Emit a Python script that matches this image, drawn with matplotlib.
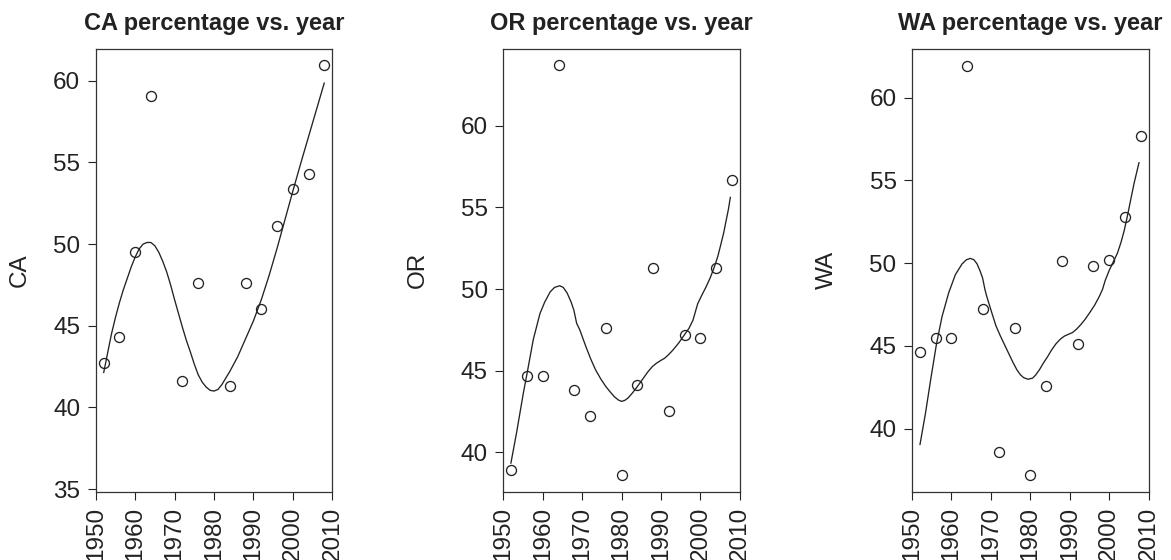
import matplotlib
matplotlib.use("Agg")
import matplotlib.pyplot as plt

# ---- observed vote shares (percent) by election year ----
ca_years = [1952, 1956, 1960, 1964, 1972, 1976, 1984, 1988, 1992, 1996, 2000, 2004, 2008]
ca_pct = [42.7, 44.3, 49.5, 59.1, 41.6, 47.6, 41.3, 47.6, 46.0, 51.1, 53.4, 54.3, 61.0]

or_years = [1952, 1956, 1960, 1964, 1968, 1972, 1976, 1980, 1984, 1988, 1992, 1996, 2000, 2004, 2008]
or_pct = [38.9, 44.7, 44.7, 63.7, 43.8, 42.2, 47.6, 38.6, 44.1, 51.3, 42.5, 47.2, 47.0, 51.3, 56.7]

wa_years = [1952, 1956, 1960, 1964, 1968, 1972, 1976, 1980, 1984, 1988, 1992, 1996, 2000, 2004, 2008]
wa_pct = [44.6, 45.5, 45.5, 61.9, 47.2, 38.6, 46.1, 37.2, 42.6, 50.1, 45.1, 49.8, 50.2, 52.8, 57.7]

# ---- fitted smooth trend for each state ----
ca_fit_x = [1952.0, 1953.0, 1954.0, 1955.0, 1956.0, 1957.0, 1958.0, 1959.0, 1960.0, 1961.0,
            1962.0, 1963.0, 1964.0, 1965.0, 1966.0, 1967.0, 1968.0, 1969.0, 1970.0, 1971.0,
            1972.0, 1973.0, 1974.0, 1975.0, 1976.0, 1977.0, 1978.0, 1979.0, 1980.0, 1981.0,
            1982.0, 1983.0, 1984.0, 1986.0, 1988.0, 1990.0, 1992.0, 1994.0, 1996.0, 1998.0,
            2000.0, 2002.0, 2004.0, 2006.0, 2008.0]
ca_fit_y = [42.1, 43.3, 44.5, 45.5, 46.4, 47.2, 47.9, 48.6, 49.2, 49.7,
            50.0, 50.1, 50.1, 49.9, 49.5, 48.95, 48.3, 47.5, 46.6, 45.75,
            44.9, 44.1, 43.4, 42.65, 42.0, 41.55, 41.25, 41.05, 41.0, 41.1,
            41.4, 41.8, 42.2, 43.1, 44.2, 45.3, 46.6, 48.1, 49.75, 51.5,
            53.25, 54.95, 56.6, 58.25, 59.9]

or_fit_x = [1951.9, 1953.4, 1955.1, 1956.0, 1957.6, 1959.3, 1960.5, 1961.9, 1963.0, 1964.3,
            1965.2, 1966.2, 1967.2, 1967.9, 1968.6, 1969.4, 1970.9, 1972.2, 1973.4, 1974.7,
            1976.0, 1977.1, 1978.1, 1979.2, 1980.0, 1980.8, 1981.6, 1982.8, 1984.0, 1985.4,
            1986.7, 1987.8, 1988.8, 1989.9, 1990.9, 1992.0, 1993.0, 1994.5, 1996.0, 1997.1,
            1998.1, 1998.7, 1999.3, 2000.3, 2001.4, 2002.5, 2003.5, 2004.4, 2005.2, 2005.9,
            2006.5, 2007.1, 2007.6]
or_fit_y = [39.3, 41.25, 43.65, 44.8, 46.9, 48.5, 49.2, 49.83, 50.1, 50.2,
            50.1, 49.75, 49.2, 48.7, 47.9, 47.5, 46.5, 45.7, 45.05, 44.5,
            44.03, 43.7, 43.42, 43.2, 43.12, 43.18, 43.32, 43.65, 44.03, 44.5,
            44.94, 45.25, 45.45, 45.62, 45.76, 46.0, 46.26, 46.7, 47.22, 47.6,
            48.09, 48.6, 49.1, 49.6, 50.12, 50.7, 51.34, 52.0, 52.76, 53.45,
            54.18, 54.9, 55.65]

wa_fit_x = [1952.0, 1953.4, 1954.7, 1956.2, 1957.6, 1959.3, 1961.0, 1962.7, 1963.8, 1964.8,
            1965.7, 1966.5, 1967.3, 1967.9, 1968.5, 1969.0, 1970.3, 1971.3, 1972.4, 1973.5,
            1974.5, 1975.5, 1976.6, 1977.5, 1978.3, 1979.4, 1980.6, 1981.4, 1982.3, 1983.3,
            1984.4, 1985.4, 1986.5, 1987.6, 1988.6, 1989.7, 1990.7, 1991.7, 1992.8, 1993.9,
            1995.0, 1996.3, 1997.5, 1998.3, 1999.0, 2000.0, 2001.0, 2002.1, 2003.0, 2003.8,
            2004.5, 2005.1, 2005.7, 2006.3, 2007.0, 2007.6]
wa_fit_y = [39.0, 40.9, 42.9, 45.1, 46.75, 48.2, 49.3, 49.95, 50.2, 50.28,
            50.2, 49.95, 49.5, 49.1, 48.4, 47.95, 46.95, 46.2, 45.6, 45.05,
            44.55, 44.05, 43.55, 43.25, 43.08, 42.98, 43.05, 43.25, 43.55, 43.95,
            44.35, 44.75, 45.12, 45.4, 45.58, 45.7, 45.8, 46.0, 46.28, 46.6,
            46.98, 47.45, 47.98, 48.4, 48.95, 49.55, 50.05, 50.6, 51.25, 51.95,
            52.7, 53.4, 54.1, 54.8, 55.5, 56.1]

# ---- axis ticks ----
x_ticks = [1950, 1960, 1970, 1980, 1990, 2000, 2010]
x_tick_labels = ["1950", "1960", "1970", "1980", "1990", "2000", "2010"]
ca_y_ticks = [35, 40, 45, 50, 55, 60]
or_y_ticks = [40, 45, 50, 55, 60]
wa_y_ticks = [40, 45, 50, 55, 60]

panels = [
    ("CA", ca_years, ca_pct, ca_fit_x, ca_fit_y, ca_y_ticks, (34.85, 61.95), 95.7, -0.323),
    ("OR", or_years, or_pct, or_fit_x, or_fit_y, or_y_ticks, (37.6, 64.7), 503.3, -0.359),
    ("WA", wa_years, wa_pct, wa_fit_x, wa_fit_y, wa_y_ticks, (36.2, 62.93), 912.0, -0.360),
]

plt.rcParams["font.family"] = ["Liberation Sans", "DejaVu Sans"]
ink = "#222222"
W, H = 1171, 560
top_px, bottom_px, width_px = 49.0, 491.5, 236.6
tick_fs = 17.5
title_fs = 17.0

fig = plt.figure(figsize=(W / 100, H / 100), dpi=100)
fig.patch.set_facecolor("white")

for state, yrs, pct, fx, fy, yticks, ylim, left_px, ylab_x in panels:
    ax = fig.add_axes([left_px / W, (H - bottom_px) / H,
                       width_px / W, (bottom_px - top_px) / H])
    ax.plot(fx, fy, color=ink, lw=0.95, solid_capstyle="butt")
    ax.plot(yrs, pct, linestyle="none", marker="o", markersize=7.2,
            markerfacecolor="none", markeredgecolor=ink, markeredgewidth=0.95,
            clip_on=False)
    ax.set_xlim(1950, 2010)
    ax.set_ylim(*ylim)
    ax.set_xticks(x_ticks)
    ax.set_xticklabels(x_tick_labels, rotation=90)
    ax.set_yticks(yticks)
    ax.tick_params(direction="out", length=6.1, width=0.8, pad=5,
                   labelsize=tick_fs, colors=ink)
    for spine in ax.spines.values():
        spine.set_color("#333333")
        spine.set_linewidth(0.9)
    ax.set_title(f"{state} percentage vs. year", fontsize=title_fs, fontweight="bold",
                 color=ink, pad=13.7)
    ax.set_ylabel(state, fontsize=tick_fs, color=ink, va="center")
    ax.yaxis.set_label_coords(ylab_x, 0.5)

fig.savefig("out.png", dpi=100, facecolor="white")
